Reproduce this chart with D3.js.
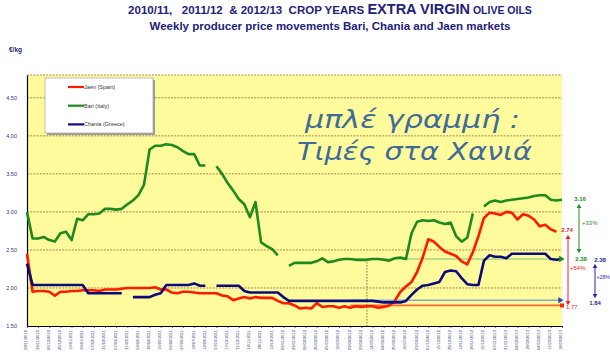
<!DOCTYPE html>
<html><head><meta charset="utf-8">
<script src="https://cdn.jsdelivr.net/npm/d3@7"></script>
<style>body{margin:0;background:#fff}svg{display:block}</style>
</head><body>
<svg id="c" width="610" height="361"></svg>
<script>
// ---------- data ----------
const weeks = d3.range(97);
const tickLabels = ["08/11/2010","22/11/2010","06/12/2010","20/12/2010","10/01/2011","24/01/2011","07/02/2011","21/02/2011","07/03/2011","21/03/2011","04/04/2011","26/04/2011","16/05/2011","06/06/2011","27/06/2011","18/07/2011","12/09/2011","03/10/2011","17/10/2011","31/10/2011","14/11/2011","28/11/2011","12/12/2011","09/01/2012","23/01/2012","06/02/2012","20/02/2012","05/03/2012","19/03/2012","02/04/2012","23/04/2012","14/05/2012","04/06/2012","25/06/2012","16/07/2012","03/09/2012","01/10/2012","15/10/2012","29/10/2012","12/11/2012","26/11/2012","10/12/2012","07/01/2013","21/01/2013","04/02/2013","18/02/2013","04/03/2013","11/03/2013","18/03/2013"];
const yTicks = [1.5, 2.0, 2.5, 3.0, 3.5, 4.0, 4.5];

const jaen = [2.45,1.95,1.96,1.96,1.95,1.90,1.95,1.95,1.96,1.96,1.97,1.97,1.97,1.96,1.98,1.98,1.98,1.99,2.00,2.00,
  2.00,2.00,2.00,2.01,1.98,1.98,1.94,1.93,1.95,1.95,1.94,1.93,1.93,1.93,1.93,1.90,1.89,1.84,1.86,1.88,
  1.86,1.88,1.87,1.87,1.87,1.83,1.80,1.80,1.77,1.73,1.74,1.73,1.80,1.75,1.76,1.76,1.74,1.76,1.74,1.76,
  1.75,1.76,1.76,1.74,1.75,1.77,1.83,1.95,2.02,2.08,2.21,2.40,2.64,2.61,2.54,2.48,2.45,2.42,2.35,2.31,
  2.47,2.68,2.92,2.99,2.98,2.96,3.00,2.99,2.90,2.97,2.95,2.90,2.81,2.83,2.77,2.74,null];
const bari = [3.00,2.65,2.65,2.67,2.63,2.61,2.72,2.74,2.63,2.91,2.89,2.97,2.97,2.98,3.04,3.04,3.03,3.04,3.10,3.15,
  3.22,3.36,3.82,3.87,3.87,3.89,3.88,3.85,3.80,3.76,3.76,3.61,3.61,null,3.60,3.50,3.38,3.28,3.17,3.10,
  2.93,3.13,2.60,2.55,2.51,2.43,null,2.29,2.33,2.33,2.33,2.33,2.35,2.39,2.34,2.35,2.37,2.38,2.38,2.37,
  2.37,2.37,2.38,2.38,2.37,2.36,2.39,2.40,2.38,2.72,2.87,2.89,2.88,2.89,2.86,2.84,2.86,2.68,2.61,2.66,
  2.98,null,3.07,3.13,3.15,3.13,3.15,3.16,3.17,3.18,3.19,3.21,3.22,3.22,3.16,3.15,3.16];
const chania = [2.32,2.04,2.04,2.04,2.04,2.04,2.04,2.04,2.04,2.04,2.04,1.93,1.93,1.93,1.93,1.93,1.93,1.93,null,1.88,
  1.88,1.88,1.88,1.91,1.93,2.04,2.04,2.04,2.04,2.04,2.06,2.03,2.03,null,2.03,2.03,2.03,2.03,2.03,1.96,
  1.94,1.94,1.94,1.94,1.94,1.94,1.88,1.83,1.83,1.83,1.83,1.83,1.83,1.83,1.83,1.83,1.83,1.83,1.83,1.83,
  1.83,1.83,1.83,1.82,1.81,1.81,1.81,1.81,1.83,1.91,1.98,2.03,2.04,2.06,2.08,2.21,2.23,2.22,2.13,2.05,
  2.04,2.04,2.36,2.43,2.41,2.41,2.39,2.45,2.45,2.45,2.45,2.45,2.45,2.45,2.38,2.37,2.38];

const seriesNames = ["Jaén (Spain)", "Bari (Italy)", "Chania (Greece)"];
const seriesColors = ["#ff1a00", "#1e8a1e", "#0c0c78"];
const refLevels = [2.38, 1.84, 1.77];          // Bari start, Chania start, Jaén start
const refColors = ["#a9d48a", "#8ea7c8", "#ff6a2a"];
const refStart = 58, markerWeek = 61;
const annotValues = {bariHigh:"3.16", bariLow:"2.38", bariPct:"+33%", jaenHigh:"2.74", jaenLow:"1.77", jaenPct:"+54%", chHigh:"2.38", chLow:"1.84", chPct:"+28%"};

// ---------- drawing ----------
const svg = d3.select("#c");
const L = 27, R = 562, T = 75, B = 326;
const x = d3.scaleLinear().domain([0, 96]).range([L, R]);
const y = d3.scaleLinear().domain([1.5, 4.8]).range([B, T]);
const navy = "#22227a";

// titles
const t1 = svg.append("text").attr("x", 330).attr("y", 14).attr("text-anchor", "middle")
  .attr("font-family", "Liberation Sans, Arial, sans-serif").attr("font-weight", "bold").attr("fill", navy);
t1.append("tspan").attr("font-size", 11.5).text("2010/11,\u00a0\u00a0 2011/12\u00a0 & 2012/13\u00a0 CROP YEARS ");
t1.append("tspan").attr("font-size", 14.5).text("EXTRA VIRGIN");
t1.append("tspan").attr("font-size", 10.5).text(" OLIVE OILS");
svg.append("text").attr("x", 330).attr("y", 30).attr("text-anchor", "middle")
  .attr("font-family", "Liberation Sans, Arial, sans-serif").attr("font-weight", "bold")
  .attr("font-size", 11.5).attr("fill", navy).text("Weekly producer price movements Bari, Chania and Jaen markets");
svg.append("text").attr("x", 9).attr("y", 52).attr("font-family", "Liberation Sans, Arial, sans-serif")
  .attr("font-weight", "bold").attr("font-size", 6.5).attr("fill", navy).text("€/kg");

// plot background
svg.append("rect").attr("x", L).attr("y", T).attr("width", R - L).attr("height", B - T).attr("fill", "#fffb9c");

// gridlines
svg.append("g").selectAll("line").data(yTicks.slice(1).concat([4.8])).join("line")
  .attr("x1", L).attr("x2", R).attr("y1", d => y(d)).attr("y2", d => y(d))
  .attr("stroke", "#9a6a3a").attr("stroke-width", 0.8).attr("stroke-dasharray", "2,1.2");

// y axis
const yAxis = svg.append("g").attr("transform", `translate(${L},0)`)
  .call(d3.axisLeft(y).tickValues(yTicks).tickFormat(d3.format(".2f")).tickSize(0).tickPadding(10));
yAxis.select(".domain").attr("stroke", "#000").attr("stroke-width", 1.2);
yAxis.selectAll("text").attr("font-size", 5.5).attr("fill", "#333377").attr("font-family", "Liberation Sans, Arial, sans-serif");

// x axis
const tickIdx = d3.range(0, 97, 2);
const xAxis = svg.append("g").attr("transform", `translate(0,${B})`)
  .call(d3.axisBottom(x).tickValues(tickIdx).tickFormat((d, i) => tickLabels[i]).tickSize(2).tickSizeOuter(0));
xAxis.select(".domain").attr("stroke", "#000").attr("stroke-width", 1);
xAxis.selectAll("line").attr("stroke", "#000").attr("stroke-width", 0.6);
xAxis.selectAll("text").attr("font-size", 4).attr("fill", "#333377")
  .attr("font-family", "Liberation Sans, Arial, sans-serif")
  .attr("transform", "rotate(-90)").attr("text-anchor", "end").attr("x", -4).attr("y", -1.5).attr("dy", "0.35em");

// dotted vertical marker
svg.append("line").attr("x1", x(markerWeek)).attr("x2", x(markerWeek)).attr("y1", y(refLevels[0])).attr("y2", B)
  .attr("stroke", "#5a4a2a").attr("stroke-width", 0.8).attr("stroke-dasharray", "1.5,1.5");

// reference lines
refLevels.forEach((v, k) => {
  svg.append("line").attr("x1", x(refStart)).attr("x2", x(96)).attr("y1", y(v)).attr("y2", y(v))
    .attr("stroke", refColors[k]).attr("stroke-width", k === 2 ? 1.8 : 1.5);
});

// data lines
const line = d3.line().defined(d => d != null).x((d, i) => x(i)).y(d => y(d));
[bari, jaen, chania].forEach((s, k) => {
  const col = [seriesColors[1], seriesColors[0], seriesColors[2]][k];
  svg.append("path").datum(s).attr("d", line).attr("fill", "none").attr("stroke", col)
    .attr("stroke-width", 2.6).attr("stroke-linejoin", "round");
});

// reference end markers
svg.append("path").attr("d", d3.symbol(d3.symbolTriangle, 18)()).attr("fill", "#1e8a1e")
  .attr("transform", `translate(${x(96) - 1},${y(refLevels[0])}) rotate(90)`);
svg.append("path").attr("d", d3.symbol(d3.symbolTriangle, 16)()).attr("fill", "#2a4aa8")
  .attr("transform", `translate(${x(96) - 2},${y(refLevels[1])}) rotate(90)`);
svg.append("rect").attr("x", x(96) - 2).attr("y", y(refLevels[2]) - 2).attr("width", 4).attr("height", 4).attr("fill", "#ff2a00");

// legend
svg.append("rect").attr("x", 47).attr("y", 80).attr("width", 108).attr("height", 55).attr("fill", "#9a9a9a");
svg.append("rect").attr("x", 45).attr("y", 78).attr("width", 108).attr("height", 55).attr("fill", "#fff")
  .attr("stroke", "#b0b0b0").attr("stroke-width", 0.8);
seriesNames.forEach((n, k) => {
  const yy = 87 + k * 18.7;
  svg.append("line").attr("x1", 68).attr("x2", 84).attr("y1", yy).attr("y2", yy).attr("stroke", seriesColors[k]).attr("stroke-width", 2.2);
  svg.append("text").attr("x", 84).attr("y", yy + 2).attr("font-size", 5.5).attr("fill", "#333")
    .attr("font-family", "Liberation Sans, Arial, sans-serif").text(n);
});

// right annotations
const ann = svg.append("g").attr("font-family", "Liberation Sans, Arial, sans-serif").attr("font-size", 6).attr("font-weight", "bold");
function darrow(xx, y1, y2, col) {
  ann.append("line").attr("x1", xx).attr("x2", xx).attr("y1", y1 + 2).attr("y2", y2 - 2).attr("stroke", col).attr("stroke-width", 1);
  ann.append("path").attr("d", d3.symbol(d3.symbolTriangle, 10)()).attr("fill", col).attr("transform", `translate(${xx},${y1 + 1.5})`);
  ann.append("path").attr("d", d3.symbol(d3.symbolTriangle, 10)()).attr("fill", col).attr("transform", `translate(${xx},${y2 - 1.5}) rotate(180)`);
}
darrow(579, 205, 252, "#2a8a2a");
darrow(568, 236, 304, "#ee2020");
darrow(595, 265, 297, "#2a2aa8");
ann.append("text").attr("x", 580).attr("y", 201).attr("text-anchor", "middle").attr("fill", "#2a8a2a").text(annotValues.bariHigh);
ann.append("text").attr("x", 581).attr("y", 261).attr("text-anchor", "middle").attr("fill", "#2a8a2a").text(annotValues.bariLow);
ann.append("text").attr("x", 582).attr("y", 225).attr("fill", "#2a8a2a").attr("font-weight", "normal").text(annotValues.bariPct);
ann.append("text").attr("x", 567).attr("y", 232).attr("text-anchor", "middle").attr("fill", "#ee2020").text(annotValues.jaenHigh);
ann.append("text").attr("x", 566).attr("y", 309).attr("fill", "#ee2020").attr("font-weight", "normal").text(annotValues.jaenLow);
ann.append("text").attr("x", 570).attr("y", 270).attr("fill", "#ee2020").attr("font-weight", "normal").text(annotValues.jaenPct);
ann.append("text").attr("x", 600).attr("y", 262).attr("text-anchor", "middle").attr("fill", "#2a2aa8").text(annotValues.chHigh);
ann.append("text").attr("x", 595).attr("y", 305).attr("text-anchor", "middle").attr("fill", "#2a2aa8").text(annotValues.chLow);
ann.append("text").attr("x", 596.5).attr("y", 279).attr("font-size", 5.2).attr("fill", "#2a2aa8").attr("font-weight", "normal").text(annotValues.chPct);

// handwritten note
const note = svg.append("g").attr("font-family", "DejaVu Sans, sans-serif").attr("font-style", "italic").attr("fill", "#3f6b9b").attr("font-size", 25);
note.append("text").attr("x", 305).attr("y", 128).attr("textLength", 215).attr("lengthAdjust", "spacingAndGlyphs").text("μπλέ γραμμή :");
note.append("text").attr("x", 297).attr("y", 160).attr("textLength", 235).attr("lengthAdjust", "spacingAndGlyphs").text("Τιμές στα Χανιά");
</script>
</body></html>
